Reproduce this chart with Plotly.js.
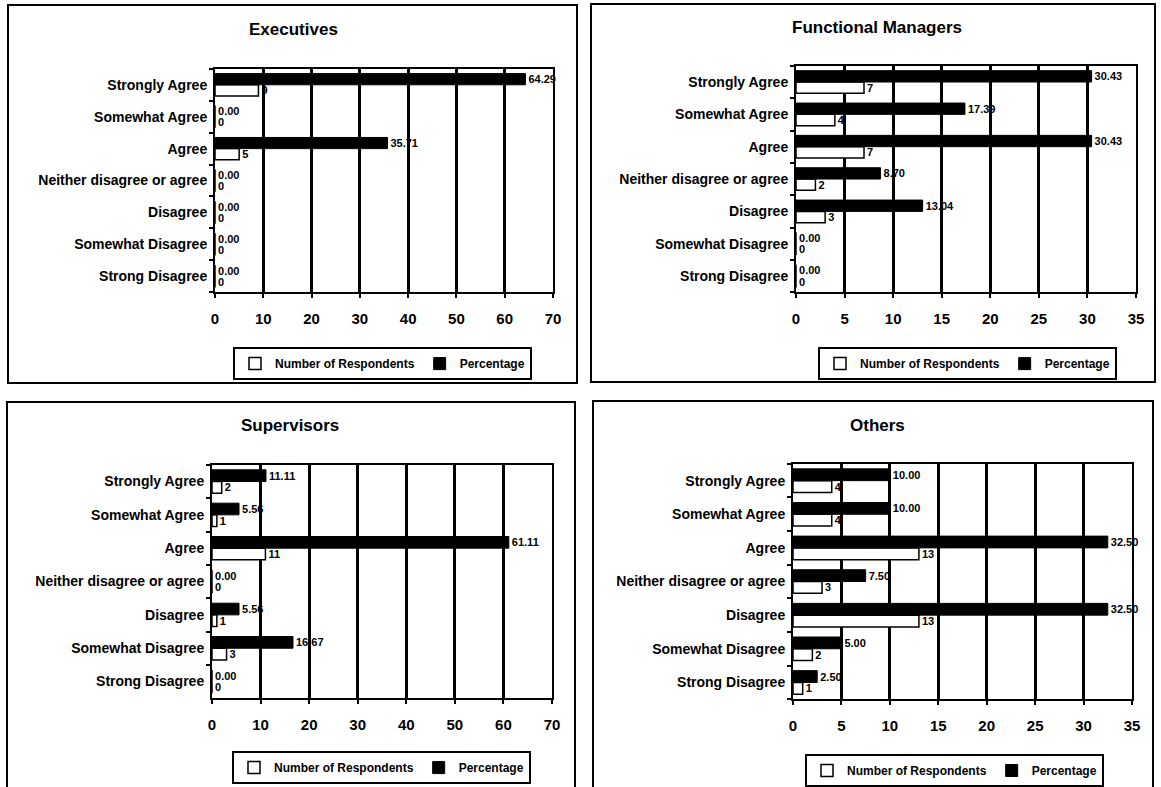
<!DOCTYPE html>
<html>
<head>
<meta charset="utf-8">
<script src="https://cdn.plot.ly/plotly-3.0.1.min.js"></script>
<style>html,body{margin:0;padding:0;background:#fff;}#chart{width:1161px;height:787px;}</style>
</head>
<body>
<div id="chart"></div>
<script>
// ---- data ----
const categories = ['Strongly Agree','Somewhat Agree','Agree','Neither disagree or agree','Disagree','Somewhat Disagree','Strong Disagree'];
const panelTitles = ['Executives','Functional Managers','Supervisors','Others'];
const seriesNames = ['Number of Respondents','Percentage'];

const execNumber = [9, 0, 5, 0, 0, 0, 0];
const execPercent = [64.29, 0.00, 35.71, 0.00, 0.00, 0.00, 0.00];

const funcNumber = [7, 4, 7, 2, 3, 0, 0];
const funcPercent = [30.43, 17.39, 30.43, 8.70, 13.04, 0.00, 0.00];

const supNumber = [2, 1, 11, 0, 1, 3, 0];
const supPercent = [11.11, 5.56, 61.11, 0.00, 5.56, 16.67, 0.00];

const othNumber = [4, 4, 13, 3, 13, 2, 1];
const othPercent = [10.00, 10.00, 32.50, 7.50, 32.50, 5.00, 2.50];

const xMax = [70, 35, 70, 35];
const xStep = [10, 5, 10, 5];

// ---- layout helpers ----
const W = 1161, H = 787;
const px = v => v / W;
const py = v => 1 - v / H;
const FONT = '"Liberation Sans", Arial, sans-serif';

const panels = [
  {num: execNumber, pct: execPercent, plot: [215, 69, 553, 293], box: [8, 5, 577, 384], title: [293, 30], legend: [233, 348]},
  {num: funcNumber, pct: funcPercent, plot: [796, 66, 1136, 293], box: [591, 4, 1155, 383], title: [877, 28], legend: [818, 348]},
  {num: supNumber, pct: supPercent, plot: [212, 466, 552, 700], box: [7, 403, 575, 790], title: [290, 427], legend: [232, 753]},
  {num: othNumber, pct: othPercent, plot: [793, 465, 1132, 701], box: [593, 402, 1153, 790], title: [877, 427], legend: [805, 756]}
];

const traces = [];
const layout = {
  width: W, height: H,
  margin: {l: 0, r: 0, t: 0, b: 0},
  paper_bgcolor: '#fff', plot_bgcolor: '#fff',
  barmode: 'group', bargap: 0.3, bargroupgap: 0,
  font: {family: FONT, color: '#000', size: 12},
  shapes: [], annotations: []
};

panels.forEach((p, i) => {
  const k = i === 0 ? '' : String(i + 1);
  const xa = 'x' + k, ya = 'y' + k;
  const lg = i === 0 ? 'legend' : 'legend' + (i + 1);
  traces.push({
    type: 'bar', orientation: 'h', name: seriesNames[0],
    x: p.num, y: categories, xaxis: xa, yaxis: ya, legend: lg,
    marker: {color: '#fff', line: {color: '#000', width: 1.5}},
    text: p.num.map(v => String(v)), textposition: 'outside', cliponaxis: false,
    constraintext: 'none',
    textfont: {family: FONT, size: 11, color: '#000', weight: 'bold'},
    hoverinfo: 'x+y'
  });
  traces.push({
    type: 'bar', orientation: 'h', name: seriesNames[1],
    x: p.pct, y: categories, xaxis: xa, yaxis: ya, legend: lg,
    marker: {color: '#000', line: {color: '#000', width: 1}},
    text: p.pct.map(v => v.toFixed(2)), textposition: 'outside', cliponaxis: false,
    constraintext: 'none',
    textfont: {family: FONT, size: 11, color: '#000', weight: 'bold'},
    hoverinfo: 'x+y'
  });
  layout['xaxis' + k] = {
    domain: [px(p.plot[0]), px(p.plot[2])], anchor: ya,
    range: [0, xMax[i]], dtick: xStep[i], tick0: 0, fixedrange: true,
    showgrid: true, gridcolor: '#000', gridwidth: 3,
    showline: true, linecolor: '#000', linewidth: 2, mirror: true,
    zeroline: false, ticks: 'outside', ticklen: 4, tickcolor: '#000', tickwidth: 2,
    ticklabelstandoff: 8,
    tickfont: {family: FONT, size: 15, color: '#000', weight: 'bold'}
  };
  layout['yaxis' + k] = {
    domain: [py(p.plot[3]), py(p.plot[1])], anchor: xa,
    type: 'category', categoryorder: 'array', categoryarray: categories.slice().reverse(),
    showgrid: false, showline: true, linecolor: '#000', linewidth: 2, mirror: true,
    ticks: 'outside', tickson: 'boundaries', ticklen: 4, tickcolor: '#000', tickwidth: 2,
    ticklabelstandoff: 3, fixedrange: true,
    tickfont: {family: FONT, size: 14, color: '#000', weight: 'bold'}
  };
  layout[lg] = {
    x: px(p.legend[0]), y: py(p.legend[1]), xanchor: 'left', yanchor: 'top',
    orientation: 'h', bordercolor: '#000', borderwidth: 2, bgcolor: '#fff',
    font: {family: FONT, size: 12, color: '#000', weight: 'bold'},
    itemwidth: 30, tracegroupgap: 0
  };
  layout.shapes.push({
    type: 'rect', xref: 'paper', yref: 'paper',
    x0: px(p.box[0]), x1: px(p.box[2]), y0: py(p.box[3]), y1: py(p.box[1]),
    line: {color: '#000', width: 2}, fillcolor: 'rgba(0,0,0,0)', layer: 'below'
  });
  layout.annotations.push({
    xref: 'paper', yref: 'paper', x: px(p.title[0]), y: py(p.title[1]),
    xanchor: 'center', yanchor: 'middle', showarrow: false,
    text: '<b>' + panelTitles[i] + '</b>',
    font: {family: FONT, size: 17, color: '#000'}
  });
});

Plotly.newPlot('chart', traces, layout, {staticPlot: true, displayModeBar: false});
</script>
</body>
</html>
